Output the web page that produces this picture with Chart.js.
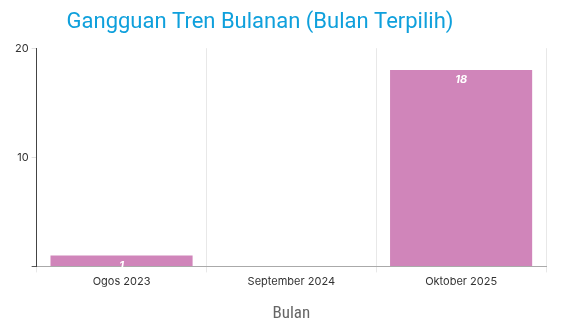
<!DOCTYPE html>
<html>
<head>
<meta charset="utf-8">
<script src="https://cdn.jsdelivr.net/npm/chart.js@4/dist/chart.umd.min.js"></script>
<style>
  html, body { margin: 0; padding: 0; background: #fff; }
  #wrap { width: 581px; height: 330px; position: relative; }
</style>
</head>
<body>
<div id="wrap"><canvas id="c"></canvas></div>
<script>
// Chart data
const chartTitle = 'Gangguan Tren Bulanan (Bulan Terpilih)';
const months = ['Ogos 2023', 'September 2024', 'Oktober 2025'];
const incidents = [1, 0, 18];
const yTicks = [0, 10, 20];

const BAR_COLOR = '#d085ba';
const TITLE_COLOR = '#0fa0dc';

// Value labels drawn inside the top of each bar
const barLabels = {
  id: 'barLabels',
  afterDatasetsDraw(chart) {
    const ctx = chart.ctx;
    const meta = chart.getDatasetMeta(0);
    ctx.save();
    ctx.font = 'italic bold 11px Inter, sans-serif';
    ctx.fillStyle = '#ffffff';
    ctx.textAlign = 'center';
    ctx.textBaseline = 'middle';
    meta.data.forEach((bar, i) => {
      const v = incidents[i];
      if (!v) return;
      ctx.fillText(String(v), bar.x, bar.y + 10);
    });
    ctx.restore();
  }
};

// Title sits a bit left of centre in the original, so draw it here
// (the built-in title just reserves the space)
const offsetTitle = {
  id: 'offsetTitle',
  afterDraw(chart) {
    const ctx = chart.ctx;
    ctx.save();
    ctx.font = '22px Roboto, sans-serif';
    ctx.fillStyle = TITLE_COLOR;
    ctx.textAlign = 'center';
    ctx.textBaseline = 'middle';
    ctx.fillText(chartTitle, 260, 22);
    ctx.restore();
  }
};

new Chart(document.getElementById('c'), {
  type: 'bar',
  data: {
    labels: months,
    datasets: [{
      label: 'Gangguan',
      data: incidents,
      backgroundColor: BAR_COLOR,
      borderWidth: 0,
      barPercentage: 0.9,
      categoryPercentage: 0.93
    }]
  },
  options: {
    responsive: true,
    maintainAspectRatio: false,
    animation: false,
    layout: { padding: { left: 12, right: 35, top: 0, bottom: 6 } },
    plugins: {
      legend: { display: false },
      tooltip: { enabled: false },
      title: {
        display: true,
        text: chartTitle,
        color: 'rgba(0,0,0,0)',
        font: { family: 'Roboto, sans-serif', size: 21, weight: 'normal' },
        padding: { top: 8, bottom: 15 }
      }
    },
    scales: {
      x: {
        grid: { color: '#e8e8e8', drawTicks: true, tickLength: 6 },
        border: { color: '#aaa', width: 1 },
        ticks: { color: '#333', font: { family: 'Inter, sans-serif', size: 11 }, padding: 3 },
        title: {
          display: true,
          text: 'Bulan',
          color: '#666',
          font: { family: 'Roboto Condensed, Roboto, sans-serif', size: 17 },
          padding: { top: 12, bottom: 0 }
        }
      },
      y: {
        min: 0,
        max: 20,
        afterBuildTicks: axis => { axis.ticks = yTicks.map(v => ({ value: v })); },
        grid: {
          drawOnChartArea: false,
          tickLength: 5,
          color: ctx => (ctx.tick && ctx.tick.value === 0 ? '#555' : '#e0e0e0')
        },
        border: { color: '#444', width: 1 },
        ticks: {
          color: '#333',
          font: { family: 'Inter, sans-serif', size: 11 },
          padding: 3,
          callback: v => (v === 0 ? '' : v)
        }
      }
    }
  },
  plugins: [barLabels, offsetTitle]
});
</script>
</body>
</html>
